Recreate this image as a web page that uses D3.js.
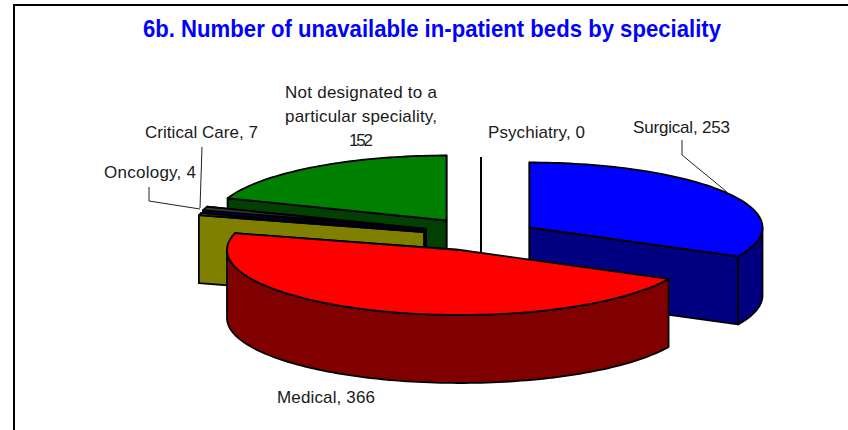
<!DOCTYPE html>
<html>
<head>
<meta charset="utf-8">
<script src="https://cdn.jsdelivr.net/npm/d3@7"></script>
<style>
html,body{margin:0;padding:0;background:#fff}
svg{display:block}
text{font-family:"Liberation Sans",Arial,sans-serif;fill:#1a1a1a}
</style>
</head>
<body>
<svg id="chart" width="848" height="430"></svg>
<script>
// ---- data ----
const titleText = "6b. Number of unavailable in-patient beds by speciality";
const categories = ["Surgical", "Medical", "Oncology", "Critical Care", "Not designated to a particular speciality", "Psychiatry"];
const values = [253, 366, 4, 7, 152, 0];
const topColors = ["#0000ff", "#ff0000", "#808000", "#3a3a3a", "#008000", "#000000"];
const wallColors = ["#000080", "#800000", "#808000", "#000040", "#004000", "#000000"];

// ---- layout ----
const apexX = [529.5, 460, 424, 426, 446.5, 481];
const apexY = [227.5, 250, 232, 229, 220.5, 222];
const radiusX = 233, radiusY = 65, depth = 68;
const drawOrder = [4, 5, 3, 2, 0, 1];

const svg = d3.select("#chart");
const unitX = d3.scaleLinear().domain([-1, 1]).range([-radiusX, radiusX]);
const unitY = d3.scaleLinear().domain([-1, 1]).range([radiusY, -radiusY]);
const pie = d3.pie().sort(null).startAngle(0).endAngle(2 * Math.PI);
const arcs = pie(values);
const line = d3.line();

function rim(i, a0, a1, dy) {
  const n = Math.max(2, Math.ceil((a1 - a0) * 40));
  return d3.range(n + 1).map(k => {
    const a = a0 + (a1 - a0) * k / n;
    return [apexX[i] + unitX(Math.sin(a)), apexY[i] + unitY(Math.cos(a)) + dy];
  });
}
const frontBand = [Math.PI * 0.5, Math.PI * 1.5];

// frame (left and top only)
svg.append("path").attr("d", "M14,430V5H848").attr("fill", "none").attr("stroke", "#000").attr("stroke-width", 2);

const g = svg.append("g").attr("stroke", "#000").attr("stroke-width", 1.8).attr("stroke-linejoin", "round");

drawOrder.forEach(i => {
  const d = arcs[i], a0 = d.startAngle, a1 = d.endAngle;
  const apex = [apexX[i], apexY[i]];
  if (a1 - a0 < 1e-6) {
    // an empty slice is only its edge, seen as a vertical line
    const tip = rim(i, a0, a0, 0)[0];
    g.append("path").attr("d", line([tip, [apex[0], apex[1] + depth]]))
      .attr("fill", "none").attr("stroke-width", 2);
    return;
  }
  // cut faces
  const faces = [a0, a1].map(a => {
    const p = rim(i, a, a, 0)[0];
    return { a, pts: [apex, p, [p[0], p[1] + depth], [apex[0], apex[1] + depth]], y: p[1] };
  }).sort((u, v) => u.y - v.y);
  faces.forEach(f => {
    // only faces turned towards the viewer show
    const visible = (f.a === a0 && Math.sin(a0) > 0 && Math.cos(a0) < 0 ? false : true);
    if (visible) g.append("path").attr("d", line(f.pts) + "Z").attr("fill", wallColors[i]);
  });
  // outer wall where the rim faces the viewer
  const w0 = Math.max(a0, frontBand[0]), w1 = Math.min(a1, frontBand[1]);
  if (w1 > w0) {
    const upper = rim(i, w0, w1, 0), lower = rim(i, w0, w1, depth).reverse();
    g.append("path").attr("d", line(upper.concat(lower)) + "Z").attr("fill", wallColors[i]);
  }
  // top face
  g.append("path").attr("d", line([apex].concat(rim(i, a0, a1, 0))) + "Z").attr("fill", topColors[i]);
});

// leader lines
const leaders = [
  [[682, 140], [682, 155], [727, 192]],
  [[202, 147], [200, 208]],
  [[149, 187], [149, 201], [200, 209]]
];
svg.append("g").attr("fill", "none").attr("stroke", "#222").attr("stroke-width", 1)
  .selectAll("path").data(leaders).join("path").attr("d", line);

// labels
const labels = [
  { lines: [`${categories[0]}, ${values[0]}`], x: 681.5, y: [133], w: [97] },
  { lines: [`${categories[1]}, ${values[1]}`], x: 326, y: [403], w: [98] },
  { lines: [`${categories[2]}, ${values[2]}`], x: 150, y: [178], w: [92] },
  { lines: [`${categories[3]}, ${values[3]}`], x: 201.5, y: [138], w: [113] },
  { lines: ["Not designated to a", "particular speciality,", `${values[4]}`], x: 361, y: [98, 122, 146], w: [152, 152, 24] },
  { lines: [`${categories[5]}, ${values[5]}`], x: 536.5, y: [138], w: [97] }
];
labels.forEach(l => l.lines.forEach((t, k) => {
  svg.append("text").attr("x", l.x).attr("y", l.y[k]).attr("text-anchor", "middle")
    .attr("font-size", 17).attr("textLength", l.w[k]).attr("lengthAdjust", "spacing").text(t);
}));

svg.append("text").attr("x", 432).attr("y", 37).attr("text-anchor", "middle")
  .attr("font-size", 24).attr("font-weight", "bold").style("fill", "#0000ff")
  .attr("textLength", 578).attr("lengthAdjust", "spacingAndGlyphs").text(titleText);
</script>
</body>
</html>
